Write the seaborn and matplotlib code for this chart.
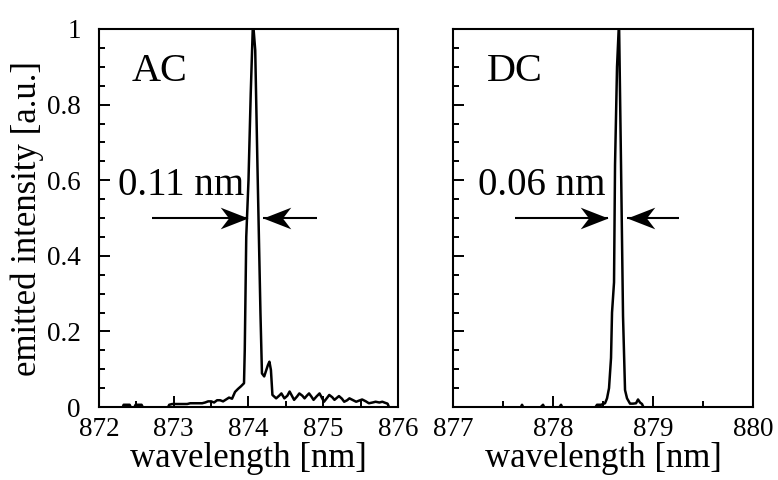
import matplotlib
matplotlib.use("Agg")
import matplotlib.pyplot as plt
import seaborn as sns
import pandas as pd
from matplotlib.ticker import MultipleLocator

# AC spectrum
ac_wavelength = [872.30, 872.33, 872.37, 872.41, 872.45, 872.49, 872.53, 872.57, 872.61, 872.65,
                 872.70, 872.75, 872.80, 872.85, 872.90, 872.94, 872.98, 873.02, 873.06, 873.10,
                 873.14, 873.18, 873.22, 873.26, 873.30, 873.34, 873.38, 873.42, 873.46, 873.50,
                 873.54, 873.58, 873.62, 873.66, 873.70, 873.74, 873.78, 873.82, 873.86, 873.90,
                 873.94, 873.95, 873.97, 874.00, 874.03, 874.06, 874.09, 874.12, 874.16, 874.18,
                 874.21, 874.26, 874.28, 874.30, 874.32, 874.37, 874.41, 874.44, 874.48, 874.52,
                 874.55, 874.58, 874.61, 874.65, 874.68, 874.72, 874.75, 874.78, 874.81, 874.84,
                 874.87, 874.91, 874.95, 874.98, 875.01, 875.05, 875.08, 875.12, 875.15, 875.18,
                 875.21, 875.25, 875.28, 875.32, 875.35, 875.40, 875.44, 875.48, 875.52, 875.57,
                 875.61, 875.66, 875.70, 875.75, 875.79, 875.83, 875.86, 875.90]
ac_intensity = [-0.01, 0.006, 0.006, 0.006, -0.01, 0.006, 0.006, 0.006, -0.01, -0.01,
                -0.01, -0.01, -0.01, -0.01, -0.01, 0.006, 0.008, 0.008, 0.008, 0.008,
                0.008, 0.008, 0.010, 0.010, 0.010, 0.010, 0.010, 0.012, 0.015, 0.015,
                0.012, 0.018, 0.018, 0.015, 0.020, 0.025, 0.022, 0.040, 0.048, 0.055,
                0.063, 0.150, 0.450, 0.600, 0.830, 1.020, 0.944, 0.636, 0.248, 0.089,
                0.081, 0.111, 0.120, 0.098, 0.032, 0.023, 0.030, 0.036, 0.023, 0.030,
                0.041, 0.030, 0.019, 0.028, 0.036, 0.030, 0.023, 0.030, 0.036, 0.028,
                0.019, 0.028, 0.036, 0.025, 0.014, 0.024, 0.032, 0.026, 0.019, 0.024,
                0.029, 0.022, 0.014, 0.018, 0.023, 0.018, 0.014, 0.017, 0.020, 0.015,
                0.010, 0.012, 0.014, 0.012, 0.014, 0.011, 0.009, -0.01]

# DC spectrum
dc_wavelength = [877.60, 877.66, 877.69, 877.72, 877.78, 877.84, 877.90, 877.93, 877.98, 878.04,
                 878.08, 878.11, 878.16, 878.22, 878.28, 878.34, 878.40, 878.44, 878.48, 878.52,
                 878.54, 878.56, 878.58, 878.59, 878.61, 878.62, 878.64, 878.66, 878.68, 878.70,
                 878.72, 878.74, 878.77, 878.80, 878.83, 878.85, 878.87, 878.89, 878.92]
dc_intensity = [-0.01, -0.01, 0.006, -0.01, -0.01, -0.01, 0.006, -0.01, -0.01, -0.01,
                0.006, -0.01, -0.01, -0.01, -0.01, -0.01, -0.01, 0.006, 0.006, 0.010,
                0.023, 0.050, 0.130, 0.250, 0.330, 0.640, 0.900, 1.020, 0.640, 0.240,
                0.045, 0.023, 0.009, 0.009, 0.010, 0.020, 0.012, 0.008, -0.01]

ytick_values = [0, 0.2, 0.4, 0.6, 0.8, 1]
ytick_labels = ["0", "0.2", "0.4", "0.6", "0.8", "1"]
ac_xticks = [872, 873, 874, 875, 876]
dc_xticks = [877, 878, 879, 880]

sns.set_theme(style="ticks")
plt.rcParams["font.family"] = ["Liberation Serif", "DejaVu Serif"]
plt.rcParams["text.color"] = "black"
plt.rcParams["axes.labelcolor"] = "black"
plt.rcParams["xtick.color"] = "black"
plt.rcParams["ytick.color"] = "black"

fig = plt.figure(figsize=(7.78, 4.8), dpi=100)
ax1 = fig.add_axes([0.1272, 0.152, 0.3844, 0.7876])
ax2 = fig.add_axes([0.5823, 0.152, 0.3856, 0.7876])

ac_df = pd.DataFrame({"wl": ac_wavelength, "I": ac_intensity})
dc_df = pd.DataFrame({"wl": dc_wavelength, "I": dc_intensity})
sns.lineplot(data=ac_df, x="wl", y="I", ax=ax1, color="black", lw=1.8, estimator=None, sort=False)
sns.lineplot(data=dc_df, x="wl", y="I", ax=ax2, color="black", lw=1.8, estimator=None, sort=False)

# stealth-style arrow heads, tip at the marker origin
head_right = [(0, 0), (-1, 0.39), (-0.7, 0), (-1, -0.39), (0, 0)]
head_left = [(-x, y) for x, y in head_right]


def width_arrow(ax, tail, tip, y=0.5):
    ax.plot([tail, tip], [y, y], color="black", lw=1.5, solid_capstyle="butt")
    head = head_right if tip > tail else head_left
    ax.plot([tip], [y], marker=head, markersize=40, color="black", mew=0, ls="none")


panels = [
    (ax1, (872, 876), ac_xticks, "AC", 872.44, "0.11 nm", 872.25, (872.71, 873.99), (874.91, 874.19)),
    (ax2, (877, 880), dc_xticks, "DC", 877.34, "0.06 nm", 877.25, (877.62, 878.55), (879.26, 878.74)),
]
for ax, xlim, xticks, name, name_x, width_txt, width_x, left_arr, right_arr in panels:
    ax.set_xlim(*xlim)
    ax.set_ylim(0, 1)
    ax.set_xticks(xticks)
    ax.set_xticklabels([str(t) for t in xticks])
    ax.xaxis.set_minor_locator(MultipleLocator(0.5))
    ax.set_yticks(ytick_values)
    ax.yaxis.set_minor_locator(MultipleLocator(0.05))
    ax.set_xlabel("wavelength [nm]", fontsize=25, labelpad=0)
    for s in ax.spines.values():
        s.set_linewidth(1.5)
        s.set_color("black")
    ax.tick_params(which="both", direction="in", top=False, right=False, width=1.4, color="black")
    ax.tick_params(which="major", length=8)
    ax.tick_params(which="minor", length=4)
    ax.tick_params(axis="x", labelsize=19.5, pad=7)
    ax.tick_params(axis="y", labelsize=19.5, pad=13)

    ax.text(name_x, 0.862, name, fontsize=29, ha="left", va="baseline")
    ax.text(width_x, 0.562, width_txt, fontsize=28, ha="left", va="baseline")
    width_arrow(ax, *left_arr)
    width_arrow(ax, *right_arr)

ax1.set_yticklabels(ytick_labels)
ax1.set_ylabel("emitted intensity [a.u.]", fontsize=25, labelpad=2)
ax2.set_yticklabels([])
ax2.set_ylabel("")

fig.savefig("out.png", dpi=100)
